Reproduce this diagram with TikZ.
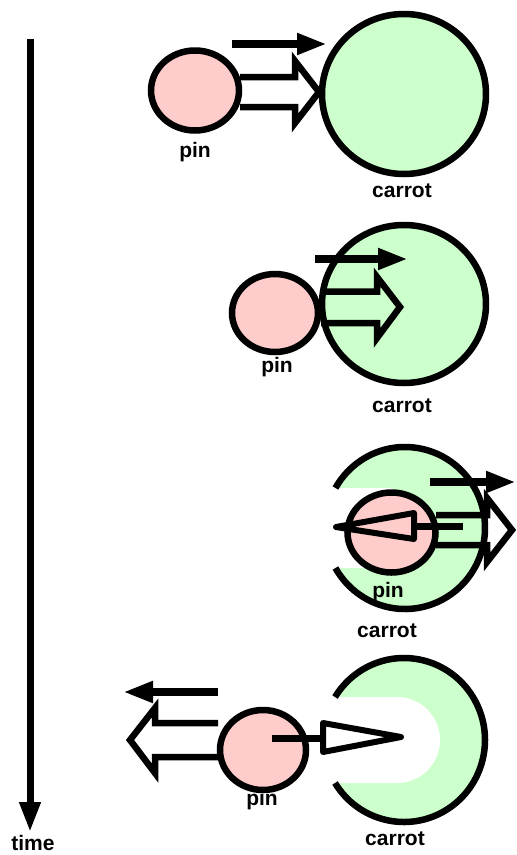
\documentclass[tikz,border=0pt]{standalone}
\usepackage{fontspec}
\setmainfont{Liberation Sans}
\usetikzlibrary{arrows.meta,shapes.geometric}
\definecolor{pinfill}{HTML}{FFCCCC}
\definecolor{carrotfill}{HTML}{CCFFCC}
\begin{document}
\begin{tikzpicture}[x=1pt,y=-1pt,
  lbl/.style={font=\fontsize{21}{23}\selectfont\bfseries, anchor=base, inner sep=0pt},
  pinbody/.style={ellipse, draw=black, line width=6.5pt, fill=pinfill, minimum width=88pt, minimum height=80pt, inner sep=0pt, outer sep=0pt},
  thinarrow/.style={line width=8pt, -{Triangle[length=30pt,width=20pt]}},
  blockarrow/.style={line width=6.5pt, line join=miter},
  spike/.style={line width=6pt, line join=round},
  spikeshaft/.style={line width=7pt},
  carrotline/.style={line width=6.5pt}]
\useasboundingbox (0,0) rectangle (517,855);

% time axis
\coordinate (time0) at (30,39);
\coordinate (time1) at (30,832);
\draw[line width=7pt, -{Triangle[length=30pt,width=20pt]}] (time0) -- (time1);
\node[lbl] (timelabel) at (33,850) {time};

% ---------- panel 1 ----------
\draw[carrotline, fill=carrotfill] (404,94) ellipse [x radius=82, y radius=80];
\node[pinbody] (pin1) at (195,90.5) {};
\draw[blockarrow] (240,77) -- (295,77) -- (295,61) -- (319,92) -- (295,123) -- (295,107) -- (240,107);
\coordinate (a1s) at (232,44);
\coordinate (a1e) at (327,44);
\draw[thinarrow] (a1s) -- (a1e);
\node[lbl] (pinlabel1) at (195,157) {pin};
\node[lbl] (carrotlabel1) at (402,197) {carrot};

% ---------- panel 2 ----------
\draw[carrotline, fill=carrotfill] (404,304) ellipse [x radius=82, y radius=79];
\node[pinbody, minimum width=86pt, minimum height=78pt] (pin2) at (275,313) {};
\draw[blockarrow] (321,291.5) -- (377,291.5) -- (377,277) -- (400,307) -- (377,338) -- (377,323) -- (321,323);
\coordinate (a2s) at (315,259);
\coordinate (a2e) at (408,259);
\draw[thinarrow] (a2s) -- (a2e);
\node[lbl] (pinlabel2) at (277,372) {pin};
\node[lbl] (carrotlabel2) at (402,412) {carrot};

% ---------- panel 3 ----------
\fill[carrotfill] (405,528) ellipse [x radius=80, y radius=81];
\fill[white] (300,488) -- (385,488) arc [start angle=-90, end angle=90, radius=40] -- (300,568) -- cycle;
\draw[carrotline] (405,528) ++(150.4:80 and 81) arc [start angle=150.4, end angle=-150.4, x radius=80, y radius=81];
\node[pinbody] (pin3) at (391.5,532.5) {};
\draw[spike] (336,527) -- (414,513) -- (414,539) -- cycle;
\draw[spikeshaft] (414,526) -- (463,526);
\draw[blockarrow] (436,515) -- (487,515) -- (487,498) -- (512,530) -- (487,562) -- (487,545) -- (436,545);
\coordinate (a3s) at (430,482);
\coordinate (a3e) at (516,482);
\draw[thinarrow] (a3s) -- (a3e);
\node[lbl] (pinlabel3) at (388,597) {pin};
\node[lbl] (carrotlabel3) at (387,637) {carrot};

% ---------- panel 4 ----------
\fill[carrotfill] (404,740) ellipse [x radius=81, y radius=82];
\fill[white] (300,697) -- (397,697) arc [start angle=-90, end angle=90, radius=43] -- (300,783) -- cycle;
\draw[carrotline] (404,740) ++(148.4:81 and 82) arc [start angle=148.4, end angle=-148.4, x radius=81, y radius=82];
\node[pinbody, minimum width=86pt] (pin4) at (263,750) {};
\draw[spikeshaft] (272,738) -- (323,738);
\draw[spike] (323,723) -- (401,737) -- (323,752) -- cycle;
\draw[blockarrow] (218,723) -- (155,723) -- (155,708) -- (130,740) -- (155,773) -- (155,757) -- (218,757);
\coordinate (a4s) at (218,692);
\coordinate (a4e) at (123,692);
\draw[thinarrow] (a4s) -- (a4e);
\node[lbl] (pinlabel4) at (262,805) {pin};
\node[lbl] (carrotlabel4) at (395,845) {carrot};
\end{tikzpicture}
\end{document}
